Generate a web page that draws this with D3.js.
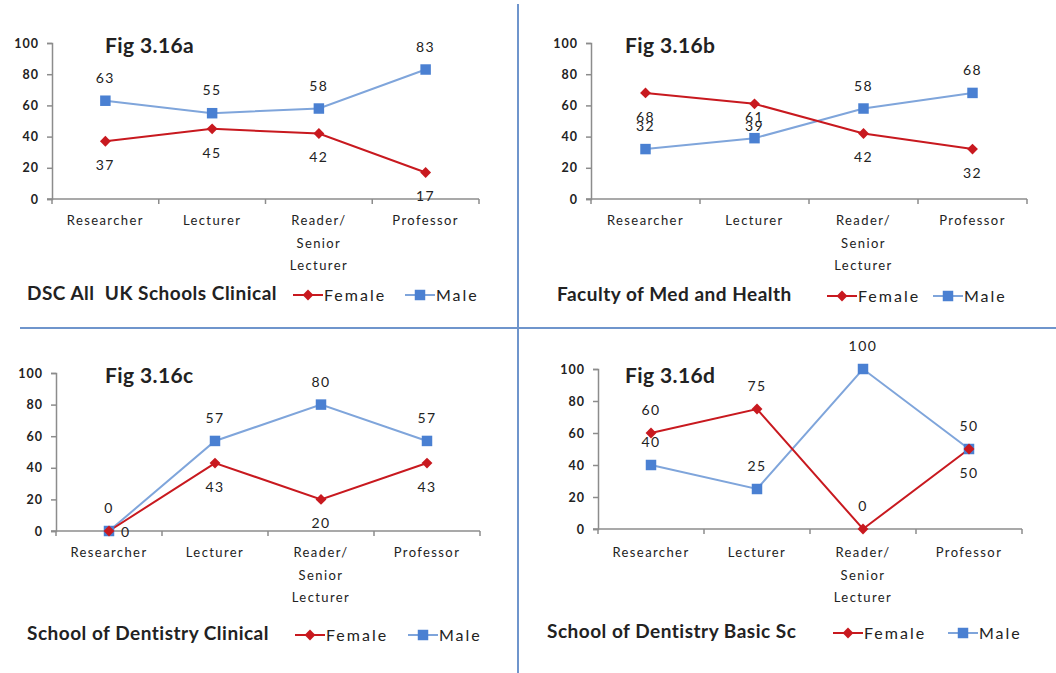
<!DOCTYPE html>
<html>
<head>
<meta charset="utf-8">
<script src="https://cdn.jsdelivr.net/npm/d3@7"></script>
<style>
  html, body { margin: 0; padding: 0; background: #fff; }
  svg text { font-family: Lato, "Open Sans", "Liberation Sans", sans-serif; fill: #222; }
  .unit-name { white-space: pre; }
</style>
</head>
<body>
<svg id="chart" width="1056" height="673"></svg>
<script>
// Job grades shared by all four figures
const categories = ["Researcher", "Lecturer", "Reader/ Senior Lecturer", "Professor"];
const yTicks = [0, 20, 40, 60, 80, 100];

// Percentage of staff by gender in each grade
const figTitles = ["Fig 3.16a", "Fig 3.16b", "Fig 3.16c", "Fig 3.16d"];
const unitNames = [
  "DSC All  UK Schools Clinical",
  "Faculty of Med and Health",
  "School of Dentistry Clinical",
  "School of Dentistry Basic Sc"
];
const femaleA = [37, 45, 42, 17];
const maleA   = [63, 55, 58, 83];
const femaleB = [68, 61, 42, 32];
const maleB   = [32, 39, 58, 68];
const femaleC = [0, 43, 20, 43];
const maleC   = [0, 57, 80, 57];
const femaleD = [60, 75, 0, 50];
const maleD   = [40, 25, 100, 50];

const femaleSeries = [femaleA, femaleB, femaleC, femaleD];
const maleSeries = [maleA, maleB, maleC, maleD];

// Panel geometry and data-label placement
const panels = [
  { x0: 52,  x1: 479,  yTop: 43,  yBot: 199, titleX: 105, titleY: 52,  catY: 225, nameX: 27,  nameY: 300, femLeg: 293, maleLeg: 405,
    femPos: ["below", "below", "below", "below"], malePos: ["above", "above", "above", "above"] },
  { x0: 591, x1: 1027, yTop: 43,  yBot: 199, titleX: 625, titleY: 52,  catY: 225, nameX: 557, nameY: 301, femLeg: 827, maleLeg: 933,
    femPos: ["below", "belowNear", "below", "below"], malePos: ["above", "aboveNear", "above", "above"] },
  { x0: 56,  x1: 480,  yTop: 373, yBot: 531, titleX: 105, titleY: 382, catY: 557, nameX: 27,  nameY: 640, femLeg: 295, maleLeg: 408,
    femPos: ["right", "below", "below", "below"], malePos: ["above", "above", "above", "above"] },
  { x0: 598, x1: 1022, yTop: 369, yBot: 529, titleX: 625, titleY: 382, catY: 557, nameX: 547, nameY: 638, femLeg: 833, maleLeg: 948,
    femPos: ["above", "above", "above", "below"], malePos: ["above", "above", "above", "above"] }
];

const RED = "#c8191f";
const BLUE_LINE = "#7fa5db";
const BLUE_MARK = "#4a80d2";
const AXIS = "#8c8c8c";

const svg = d3.select("#chart");

// Panel separators
svg.append("line").attr("x1", 518).attr("x2", 518).attr("y1", 4).attr("y2", 673)
  .attr("stroke", "#6f95cc").attr("stroke-width", 2);
svg.append("line").attr("x1", 20).attr("x2", 1056).attr("y1", 328).attr("y2", 328)
  .attr("stroke", "#6f95cc").attr("stroke-width", 2);

const diamond = d3.symbol().type(d3.symbolDiamond2 || d3.symbolDiamond).size(75);
const square = d3.symbol().type(d3.symbolSquare).size(110);

panels.forEach((p, i) => {
  const g = svg.append("g");
  const x = d3.scaleBand().domain(categories).range([p.x0, p.x1]);
  const y = d3.scaleLinear().domain([0, 100]).range([p.yBot, p.yTop]);
  const cx = c => x(c) + x.bandwidth() / 2;

  // Y axis
  const yAxis = g.append("g").attr("transform", `translate(${p.x0},0)`)
    .call(d3.axisLeft(y).tickValues(yTicks).tickSize(5).tickPadding(8));
  yAxis.select(".domain").attr("stroke", AXIS).attr("stroke-width", 1.5);
  yAxis.selectAll(".tick line").attr("stroke", AXIS).attr("stroke-width", 1.5);
  yAxis.selectAll(".tick text").attr("font-size", 12.5).attr("font-weight", 700)
    .attr("letter-spacing", 1).attr("fill", "#333").style("font-family", "Lato, sans-serif");

  // X axis with ticks at band boundaries
  g.append("line").attr("x1", p.x0 - 5).attr("x2", p.x1).attr("y1", p.yBot).attr("y2", p.yBot)
    .attr("stroke", AXIS).attr("stroke-width", 1.5);
  const bounds = categories.map(c => x(c)).concat([p.x1]);
  g.selectAll(".xt").data(bounds).enter().append("line")
    .attr("x1", d => d).attr("x2", d => d).attr("y1", p.yBot).attr("y2", p.yBot + 5)
    .attr("stroke", AXIS).attr("stroke-width", 1.5);

  // Category labels (grade with a slash wraps over three lines)
  categories.forEach(c => {
    const lines = c === "Reader/ Senior Lecturer" ? ["Reader/", "Senior", "Lecturer"] : [c];
    const t = g.append("text").attr("text-anchor", "middle").attr("font-size", 13)
      .attr("letter-spacing", 1.4).attr("fill", "#2a2a2a");
    lines.forEach((ln, k) => {
      t.append("tspan").attr("x", cx(c)).attr("y", p.catY + k * 22.5).text(ln);
    });
  });

  // Figure title
  g.append("text").attr("x", p.titleX).attr("y", p.titleY + 1)
    .attr("font-size", 21).attr("font-weight", 700).attr("fill", "#1a1a1a")
    .attr("letter-spacing", 0.4).text(figTitles[i]);

  const line = d3.line().x((d, k) => cx(categories[k])).y(d => y(d));
  const fem = femaleSeries[i], mal = maleSeries[i];

  // Series lines
  g.append("path").datum(mal).attr("d", line).attr("fill", "none")
    .attr("stroke", BLUE_LINE).attr("stroke-width", 2);
  g.append("path").datum(fem).attr("d", line).attr("fill", "none")
    .attr("stroke", RED).attr("stroke-width", 2);

  // Markers
  g.selectAll(".mm").data(mal).enter().append("path")
    .attr("d", square).attr("fill", BLUE_MARK)
    .attr("transform", (d, k) => `translate(${cx(categories[k])},${y(d)})`);
  g.selectAll(".fm").data(fem).enter().append("path")
    .attr("d", diamond).attr("fill", RED)
    .attr("transform", (d, k) => `translate(${cx(categories[k])},${y(d)})`);

  // Data labels
  const place = (d, k, pos) => {
    const px = cx(categories[k]), py = y(d);
    if (pos === "above") return [px, py - 18, "middle"];
    if (pos === "below") return [px, py + 29, "middle"];
    if (pos === "aboveNear") return [px, py - 7, "middle"];
    if (pos === "belowNear") return [px, py + 18, "middle"];
    return [px + 12, py + 6, "start"];
  };
  const labelSeries = (vals, posArr) => {
    vals.forEach((d, k) => {
      const [lx, ly, anchor] = place(d, k, posArr[k]);
      g.append("text").attr("x", lx).attr("y", ly).attr("text-anchor", anchor)
        .attr("font-size", 14).attr("letter-spacing", 1.5).attr("fill", "#222").text(d);
    });
  };
  labelSeries(mal, p.malePos);
  labelSeries(fem, p.femPos);

  // Unit name and legend
  g.append("text").attr("class", "unit-name").attr("x", p.nameX).attr("y", p.nameY)
    .attr("font-size", 19).attr("font-weight", 700).attr("fill", "#1a1a1a")
    .attr("letter-spacing", 0.5).text(unitNames[i]);

  const legY = p.nameY - 5;
  const legItem = (lx, color, markColor, sym, label) => {
    g.append("line").attr("x1", lx).attr("x2", lx + 30).attr("y1", legY).attr("y2", legY)
      .attr("stroke", color).attr("stroke-width", 2);
    g.append("path").attr("d", sym).attr("fill", markColor)
      .attr("transform", `translate(${lx + 15},${legY})`);
    g.append("text").attr("x", lx + 31).attr("y", legY + 6).attr("font-size", 16)
      .attr("letter-spacing", 2).attr("fill", "#222").text(label);
  };
  legItem(p.femLeg, RED, RED, diamond, "Female");
  legItem(p.maleLeg, BLUE_LINE, BLUE_MARK, square, "Male");
});
</script>
</body>
</html>
